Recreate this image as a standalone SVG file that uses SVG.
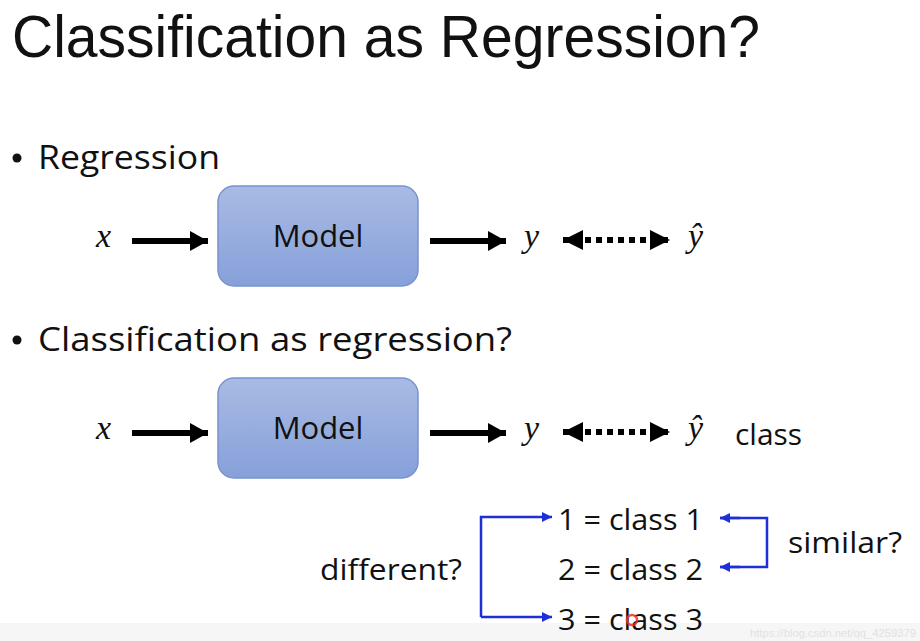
<svg xmlns="http://www.w3.org/2000/svg" width="920" height="641" viewBox="0 0 920 641">
  <style>
    .t { font-family: "Open Sans", "Noto Sans", "Liberation Sans", sans-serif; fill: #111; }
    .m { font-family: "Liberation Serif", "DejaVu Serif", serif; font-style: italic; fill: #111; font-size: 34px; }
    .box { fill: url(#g); stroke: #7893cf; stroke-width: 1.5; }
    .blk { stroke: #000; stroke-width: 6; fill: none; }
    .dot { stroke: #000; stroke-width: 6; fill: none; stroke-dasharray: 6 5; }
    .blu { stroke: #1c2fd8; stroke-width: 2.5; fill: none; }
  </style>
  <defs>
    <linearGradient id="g" x1="0" y1="0" x2="0" y2="1">
      <stop offset="0" stop-color="#a9bbe4"/>
      <stop offset="1" stop-color="#86a0da"/>
    </linearGradient>
    <marker id="ah" viewBox="0 0 18 20" refX="18" refY="10" markerWidth="18" markerHeight="20" markerUnits="userSpaceOnUse" orient="auto">
      <path d="M0,0 L18,10 L0,20 Z" fill="#000"/>
    </marker>
    <marker id="ahs" viewBox="0 0 20 20" refX="20" refY="10" markerWidth="20" markerHeight="20" markerUnits="userSpaceOnUse" orient="auto-start-reverse">
      <path d="M0,0 L20,10 L0,20 Z" fill="#000"/>
    </marker>
    <marker id="bh" viewBox="0 0 10 10" refX="10" refY="5" markerWidth="10" markerHeight="10" markerUnits="userSpaceOnUse" orient="auto">
      <path d="M0,0 L10,5 L0,10 Z" fill="#1c2fd8"/>
    </marker>
  </defs>
  <rect x="0" y="0" width="920" height="641" fill="#fff"/>
  <rect x="0" y="623" width="920" height="18" fill="#f6f6f6"/>

  <g id="title">
    <text x="12" y="57" font-family="'Liberation Sans', Arial, sans-serif" font-size="60" fill="#111" textLength="748" lengthAdjust="spacingAndGlyphs">Classification as Regression?</text>
  </g>
  <g id="bullet1">
    <circle cx="17" cy="158" r="4.5" fill="#111"/>
    <text class="t" x="38" y="169" font-size="33" textLength="182" lengthAdjust="spacingAndGlyphs">Regression</text>
  </g>
  <g id="bullet2">
    <circle cx="17" cy="340" r="4.5" fill="#111"/>
    <text class="t" x="38" y="351" font-size="33" textLength="474" lengthAdjust="spacingAndGlyphs">Classification as regression?</text>
  </g>

  <g id="x1"><text class="m" x="96" y="247">x</text></g>
  <g id="model1">
    <rect class="box" x="218" y="186" width="200" height="100" rx="16"/>
    <text class="t" x="318" y="247" font-size="31" text-anchor="middle">Model</text>
  </g>
  <g id="y1"><text class="m" x="524" y="247">y</text></g>
  <g id="yhat1"><text class="m" x="688" y="247">ŷ</text></g>

  <g id="x2"><text class="m" x="96" y="439">x</text></g>
  <g id="model2">
    <rect class="box" x="218" y="378" width="200" height="100" rx="16"/>
    <text class="t" x="318" y="439" font-size="31" text-anchor="middle">Model</text>
  </g>
  <g id="y2"><text class="m" x="524" y="439">y</text></g>
  <g id="yhat2"><text class="m" x="688" y="439">ŷ</text></g>
  <g id="classlbl"><text class="t" x="735" y="445" font-size="29" textLength="67" lengthAdjust="spacingAndGlyphs">class</text></g>

  <g id="c1"><text class="t" x="558" y="530" font-size="29" textLength="145" lengthAdjust="spacingAndGlyphs">1 = class 1</text></g>
  <g id="c2"><text class="t" x="558" y="580" font-size="29" textLength="145" lengthAdjust="spacingAndGlyphs">2 = class 2</text></g>
  <g id="c3"><text class="t" x="558" y="630" font-size="29" textLength="145" lengthAdjust="spacingAndGlyphs">3 = class 3</text></g>
  <g id="different"><text class="t" x="320" y="580" font-size="29" textLength="142" lengthAdjust="spacingAndGlyphs">different?</text></g>
  <g id="similar"><text class="t" x="788" y="553" font-size="29" textLength="114" lengthAdjust="spacingAndGlyphs">similar?</text></g>

  <g id="connectors">
    <path class="blk" d="M132,241 H208" marker-end="url(#ah)"/>
    <path class="blk" d="M430,241 H506" marker-end="url(#ah)"/>
    <path class="dot" d="M563,240 H670" marker-start="url(#ahs)" marker-end="url(#ahs)"/>
    <path class="blk" d="M132,433 H208" marker-end="url(#ah)"/>
    <path class="blk" d="M430,433 H506" marker-end="url(#ah)"/>
    <path class="dot" d="M563,432 H670" marker-start="url(#ahs)" marker-end="url(#ahs)"/>
    <path class="blu" d="M481,617 V517 H552" marker-end="url(#bh)"/>
    <path class="blu" d="M481,617 H552" marker-end="url(#bh)"/>
    <path class="blu" d="M720,518 H767 V567 H720" />
    <path class="blu" d="M740,518 H720" marker-end="url(#bh)"/>
    <path class="blu" d="M740,567 H720" marker-end="url(#bh)"/>
  </g>

  <circle cx="632" cy="620" r="5" fill="none" stroke="#e8322a" stroke-width="2.5" opacity="0.85"/>
  <text x="750" y="637" font-family="'Liberation Sans', sans-serif" font-size="11" fill="#e2e2e2" textLength="166" lengthAdjust="spacingAndGlyphs">https://blog.csdn.net/qq_4259379</text>
</svg>
